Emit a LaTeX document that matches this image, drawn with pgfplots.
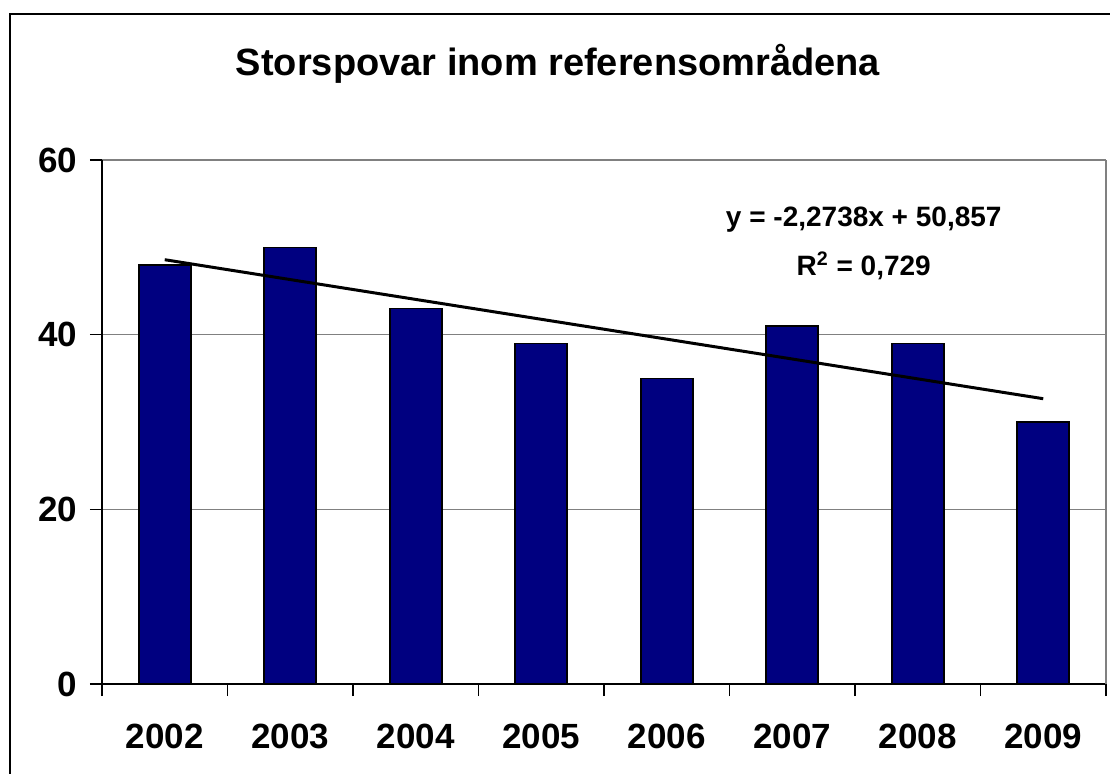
\documentclass[border=0pt]{standalone}
\usepackage{fontspec}
\setmainfont{Liberation Sans}
\usepackage{pgfplots}
\pgfplotsset{compat=1.18}
\definecolor{barnavy}{HTML}{000080}
\definecolor{gridgray}{HTML}{808080}
\begin{document}
\begin{tikzpicture}
\useasboundingbox (0,0) rectangle (555pt,386.5pt);
\draw[line width=1.1pt] (5pt,-10pt) rectangle (565pt,379.5pt);
\node[font=\fontsize{19}{22}\selectfont\bfseries] at (279pt,354.5pt) {Storspovar inom referensområdena};
\begin{axis}[
  at={(51pt,44.5pt)}, anchor=south west,
  width=502pt, height=262pt, scale only axis,
  xmin=0.5, xmax=8.5, ymin=0, ymax=60,
  ytick={0,20,40,60},
  xtick={0.5,1.5,...,8.5},
  xticklabels={2002,2003,2004,2005,2006,2007,2008,2009},
  x tick label as interval,
  axis lines=left, axis line style={-, black, line width=0.6pt},
  tick align=outside,
  major tick length=6pt,
  tick style={black, line width=0.6pt},
  ymajorgrids, grid style={gridgray, line width=0.7pt},
  /pgf/number format/assume math mode=true,
  ticklabel style={font=\fontsize{17.5}{20}\selectfont\bfseries},
  yticklabel style={xshift=-3pt},
  xticklabel style={yshift=-10.5pt},
  clip=false,
]
\draw[gridgray, line width=0.7pt] (rel axis cs:1,0) -- (rel axis cs:1,1);
\addplot[ybar, bar width=0.414, fill=barnavy, draw=black, line width=0.8pt]
  coordinates {(1,48) (2,50) (3,43) (4,39) (5,35) (6,41) (7,39) (8,30)};
\addplot[black, line width=1.5pt] coordinates {(1,48.5832) (8,32.6666)};
\node[font=\fontsize{14}{16}\selectfont\bfseries] at (axis cs:6.57,53.13) {y = -2,2738x + 50,857};
\node[font=\fontsize{14}{16}\selectfont\bfseries] at (axis cs:6.57,47.86) {R\textsuperscript{2} = 0,729};
\end{axis}
\end{tikzpicture}
\end{document}
